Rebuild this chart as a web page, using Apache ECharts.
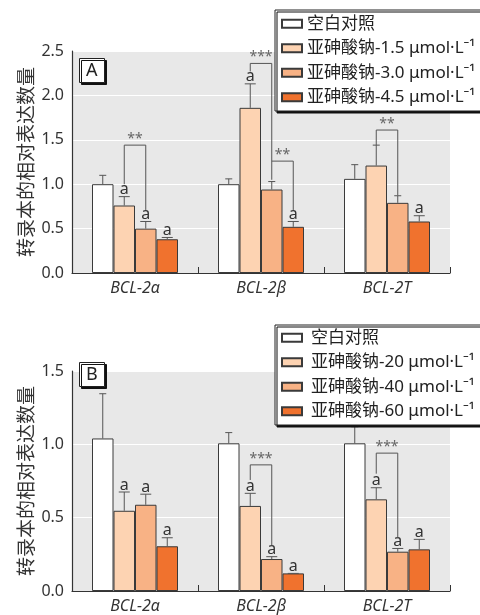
<!DOCTYPE html>
<html>
<head>
<meta charset="utf-8">
<script src="https://cdn.jsdelivr.net/npm/echarts@6/dist/echarts.min.js"></script>
<style>
  html, body { margin: 0; padding: 0; background: #fff; }
  #main { width: 480px; height: 615px; }
</style>
</head>
<body>
<div id="main"></div>
<script>
// categories and tick labels
const categories = ['BCL-2α', 'BCL-2β', 'BCL-2T'];
const namesA = ['空白对照', '亚砷酸钠-1.5 μmol·L⁻¹', '亚砷酸钠-3.0 μmol·L⁻¹', '亚砷酸钠-4.5 μmol·L⁻¹'];
const namesB = ['空白对照', '亚砷酸钠-20 μmol·L⁻¹', '亚砷酸钠-40 μmol·L⁻¹', '亚砷酸钠-60 μmol·L⁻¹'];

// panel A: bar heights (one row per series), error bar tops, "a" marks
const valuesA = [
  [1.00, 1.00, 1.06],
  [0.76, 1.86, 1.21],
  [0.50, 0.94, 0.79],
  [0.38, 0.52, 0.58]
];
const errTopA = [
  [1.10, 1.06, 1.22],
  [0.86, 2.13, 1.44],
  [0.58, 1.03, 0.87],
  [0.40, 0.58, 0.645]
];
const markA = [
  [0, 0, 0],
  [1, 1, 0],
  [1, 0, 0],
  [1, 1, 1]
];
// brackets: [category, fromSeries, toSeries, bracketY, leftLegEnd, rightLegEnd, stars]
const bracketsA = [
  [0, 1, 2, 1.44, 1.00, 0.71, 2],
  [1, 1, 2, 2.36, 2.27, 1.05, 3],
  [1, 2, 3, 1.26, 1.26, 0.71, 2],
  [2, 1, 2, 1.61, 1.44, 0.875, 2]
];

// panel B
const valuesB = [
  [1.04, 1.007, 1.007],
  [0.547, 0.58, 0.625],
  [0.588, 0.218, 0.268],
  [0.305, 0.12, 0.284]
];
const errTopB = [
  [1.345, 1.08, 1.12],
  [0.675, 0.666, 0.704],
  [0.66, 0.234, 0.29],
  [0.363, 0.12, 0.352]
];
const markB = [
  [0, 0, 0],
  [1, 1, 1],
  [1, 1, 1],
  [1, 1, 1]
];
const bracketsB = [
  [1, 1, 2, 0.86, 0.757, 0.31, 3],
  [2, 1, 2, 0.94, 0.80, 0.36, 3]
];

const colors = ['#ffffff', '#fdd3b2', '#f8b285', '#f0722e'];
const FONT = '"Noto Sans", "Noto Sans CJK SC", sans-serif';
const BAR_W = 21.5;

function offsetOf(i) {
  return (i - 1.5) * BAR_W;
}

function renderErr(params, api) {
  const cat = api.value(0), s = api.value(1);
  const top = api.coord([cat, api.value(2)]);
  const err = api.coord([cat, api.value(3)]);
  const flag = api.value(4);
  const x = top[0] + offsetOf(s);
  const half = flag ? 5.5 : 3.5;
  const style = { stroke: '#555', lineWidth: 1 };
  const children = [
    { type: 'line', shape: { x1: x, y1: top[1], x2: x, y2: err[1] }, style: style },
    { type: 'line', shape: { x1: x - half, y1: err[1], x2: x + half, y2: err[1] }, style: style }
  ];
  if (flag) {
    children.push({
      type: 'text',
      style: {
        x: x, y: err[1] + 1, text: 'a', fill: '#333',
        font: '16px ' + FONT, align: 'center', verticalAlign: 'bottom'
      }
    });
  }
  return { type: 'group', children: children };
}

function renderBracket(params, api) {
  const cat = api.value(0);
  const yb = api.coord([cat, api.value(3)]);
  const yl = api.coord([cat, api.value(4)])[1];
  const yr = api.coord([cat, api.value(5)])[1];
  const xl = yb[0] + offsetOf(api.value(1));
  const xr = yb[0] + offsetOf(api.value(2));
  return {
    type: 'group',
    children: [
      {
        type: 'polyline',
        shape: { points: [[xl, yl], [xl, yb[1]], [xr, yb[1]], [xr, yr]] },
        style: { stroke: '#555', lineWidth: 1, fill: null }
      },
      {
        type: 'text',
        style: {
          x: (xl + xr) / 2, y: yb[1] + 1, text: '*'.repeat(api.value(6)),
          fill: '#666', font: '14px ' + FONT, align: 'center', verticalAlign: 'bottom'
        }
      }
    ]
  };
}

function buildSeries(gridIdx, names, values, errTop, marks, brackets) {
  const out = [];
  names.forEach(function (name, i) {
    out.push({
      name: name,
      type: 'bar',
      xAxisIndex: gridIdx,
      yAxisIndex: gridIdx,
      barWidth: BAR_W,
      barGap: '0%',
      itemStyle: { color: colors[i], borderColor: '#3a3a3a', borderWidth: 1 },
      data: values[i]
    });
  });
  const errData = [];
  names.forEach(function (name, i) {
    categories.forEach(function (c, k) {
      errData.push([k, i, values[i][k], errTop[i][k], marks[i][k]]);
    });
  });
  out.push({
    type: 'custom',
    xAxisIndex: gridIdx,
    yAxisIndex: gridIdx,
    renderItem: renderErr,
    data: errData,
    z: 3,
    silent: true
  });
  out.push({
    type: 'custom',
    xAxisIndex: gridIdx,
    yAxisIndex: gridIdx,
    renderItem: renderBracket,
    data: brackets,
    z: 3,
    silent: true
  });
  return out;
}

function xAxis(gridIdx) {
  return {
    type: 'category',
    gridIndex: gridIdx,
    data: categories,
    axisLine: { lineStyle: { color: '#333', width: 1.2 } },
    axisTick: { show: true, inside: true, length: 6, lineStyle: { color: '#333' } },
    axisLabel: { fontFamily: FONT, fontSize: 16, fontStyle: 'italic', color: '#333', margin: 7 }
  };
}

function yAxis(gridIdx, max) {
  return {
    type: 'value',
    gridIndex: gridIdx,
    min: 0,
    max: max,
    interval: 0.5,
    name: '转录本的相对表达数量',
    nameLocation: 'middle',
    nameGap: 35,
    nameMoveOverlap: false,
    nameTextStyle: { fontFamily: FONT, fontSize: 19, color: '#333' },
    axisLine: { show: true, lineStyle: { color: '#333', width: 1.2 } },
    axisTick: { show: false },
    splitLine: { lineStyle: { color: '#ffffff', width: 1 } },
    axisLabel: {
      fontFamily: FONT, fontSize: 16, color: '#333', margin: 8,
      formatter: function (v) { return v.toFixed(1); }
    }
  };
}

function legend(names, top, padding, textGap) {
  return {
    data: names,
    orient: 'vertical',
    left: 275,
    top: top,
    itemWidth: 20,
    itemHeight: 8,
    itemGap: 5,
    icon: 'rect',
    selectedMode: false,
    padding: padding,
    backgroundColor: '#fff',
    borderColor: '#222',
    borderWidth: 1,
    shadowColor: '#111',
    shadowBlur: 0,
    shadowOffsetX: 2,
    shadowOffsetY: 2,
    z: 10,
    textStyle: {
      fontFamily: FONT, fontSize: 17, color: '#222', lineHeight: 19.5,
      padding: [0, 0, 0, textGap]
    }
  };
}

function panelTitle(text, top) {
  return {
    text: text,
    left: 79,
    top: top,
    padding: [2, 7, 2, 7],
    borderColor: '#222',
    borderWidth: 1,
    backgroundColor: '#fff',
    shadowColor: '#111',
    shadowBlur: 0,
    shadowOffsetX: 2,
    shadowOffsetY: 2,
    textStyle: { fontFamily: FONT, fontSize: 18, fontWeight: 'normal', color: '#222', lineHeight: 21 }
  };
}

const chart = echarts.init(document.getElementById('main'));
chart.setOption({
  animation: false,
  backgroundColor: '#fff',
  title: [panelTitle('A', 58), panelTitle('B', 362)],
  legend: [legend(namesA, 10, [4, 6, 4, 6], 0), legend(namesB, 325, [3, 6, 4, 6], 4)],
  grid: [
    { left: 72, top: 51, width: 378, height: 222, show: true, backgroundColor: '#e8e8e8', borderWidth: 0 },
    { left: 72, top: 371, width: 378, height: 220, show: true, backgroundColor: '#e8e8e8', borderWidth: 0 }
  ],
  xAxis: [xAxis(0), xAxis(1)],
  yAxis: [yAxis(0, 2.5), yAxis(1, 1.5)],
  series: buildSeries(0, namesA, valuesA, errTopA, markA, bracketsA)
    .concat(buildSeries(1, namesB, valuesB, errTopB, markB, bracketsB))
});
</script>
</body>
</html>
